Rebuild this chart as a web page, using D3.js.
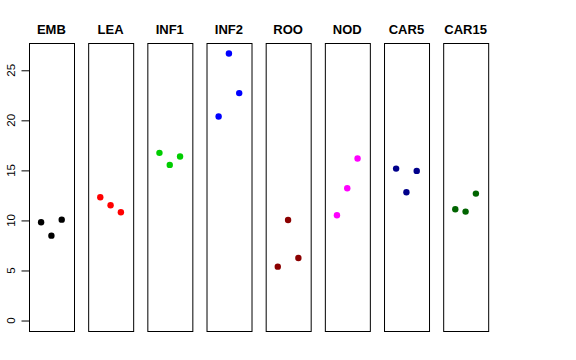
<!DOCTYPE html>
<html><head><meta charset="utf-8">
<script src="https://cdn.jsdelivr.net/npm/d3@7"></script>
<style>body{margin:0;background:#fff}svg{display:block}</style>
</head><body>
<svg id="c" width="576" height="360"></svg>
<script>
const categories = ["EMB","LEA","INF1","INF2","ROO","NOD","CAR5","CAR15"];
const colors = ["#000000","#FF0000","#00CD00","#0000FF","#8B0000","#FF00FF","#00008B","#006400"];
const EMB = [9.82, 8.48, 10.08];
const LEA = [12.32, 11.52, 10.82];
const INF1 = [16.75, 15.55, 16.38];
const INF2 = [20.38, 26.68, 22.72];
const ROO = [5.38, 10.05, 6.25];
const NOD = [10.52, 13.22, 16.18];
const CAR5 = [15.18, 12.82, 14.95];
const CAR15 = [11.12, 10.88, 12.68];
const series = [EMB, LEA, INF1, INF2, ROO, NOD, CAR5, CAR15];
const yTicks = [0, 5, 10, 15, 20, 25];

const svg = d3.select("#c");
const yMax = d3.max(series.flat());
const ext = (yMax - 0) * 0.04;
const y = d3.scaleLinear().domain([0 - ext, yMax + ext]).range([331.2, 42.8]);
const band = d3.scaleBand().domain(categories).range([29, 488]).paddingInner(0.2426).paddingOuter(0);
const bw = band.bandwidth();
const xi = d3.scaleLinear().domain([0, 4]).range([1.8, bw - 1.8]);

categories.forEach((cat, i) => {
  const g = svg.append("g").attr("transform", `translate(${band(cat)},0)`);
  g.append("rect").attr("x", 0.5).attr("y", Math.round(y.range()[1]) + 0.5)
    .attr("width", Math.round(bw)).attr("height", Math.round(y.range()[0] - y.range()[1]))
    .attr("fill", "none").attr("stroke", "#000").attr("stroke-width", 1);
  g.append("text").attr("x", bw / 2).attr("y", 34)
    .attr("text-anchor", "middle").attr("font-family", "Liberation Sans, Arial, sans-serif")
    .attr("font-weight", "bold").attr("font-size", 13).text(cat);
  g.selectAll("circle").data(series[i]).enter().append("circle")
    .attr("cx", (d, j) => xi(j + 1)).attr("cy", d => y(d)).attr("r", 3.2)
    .attr("fill", colors[i]);
});

const axis = d3.axisLeft(y).tickValues(yTicks).tickSize(8).tickFormat(d3.format("d"));
const ag = svg.append("g").attr("transform", `translate(${band(categories[0]) + 0.5},0)`).call(axis);
ag.select(".domain").remove();
ag.selectAll("line").attr("stroke", "#000");
ag.selectAll("text")
  .attr("font-family", "Liberation Sans, Arial, sans-serif").attr("font-size", 11.5)
  .attr("fill", "#000")
  .attr("transform", "rotate(-90)")
  .attr("x", 0).attr("y", 0).attr("dy", null)
  .attr("text-anchor", "middle")
  .each(function() {
    const t = d3.select(this.parentNode).attr("transform");
  });
ag.selectAll(".tick").each(function(d) {
  const tk = d3.select(this);
  tk.attr("transform", null);
  tk.select("line").attr("y1", y(d) + 0.5).attr("y2", y(d) + 0.5).attr("x2", -8);
  tk.select("text").attr("transform", `translate(-15,${y(d)}) rotate(-90)`);
});
</script>
</body></html>
